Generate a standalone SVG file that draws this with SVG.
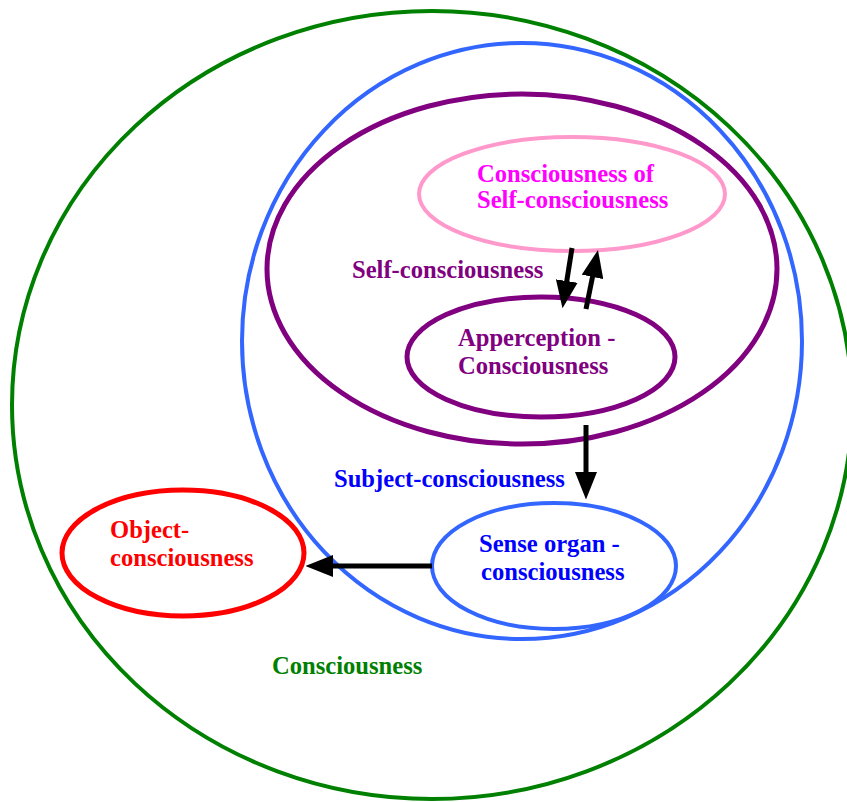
<svg xmlns="http://www.w3.org/2000/svg" width="847" height="802" viewBox="0 0 847 802">
<style>
  .e { fill: none; }
  text { font-family: "Liberation Serif", "Times New Roman", serif; font-weight: bold; font-size: 24.6px; }
  .c { stroke: #000; stroke-width: 5; fill: none; }
</style>
<defs>
  <marker id="ah" markerWidth="5.5" markerHeight="4.4" refX="1" refY="2.2" orient="auto" markerUnits="strokeWidth">
    <path d="M0,0 L5.5,2.2 L0,4.4 z" fill="#000"/>
  </marker>
</defs>
<rect width="847" height="802" fill="#fff"/>
<g id="consciousness">
  <ellipse class="e" cx="432" cy="405" rx="420" ry="394" stroke="#008000" stroke-width="4"/>
  <text x="272" y="674" fill="#008000">Consciousness</text>
</g>
<g id="subject">
  <ellipse class="e" cx="522" cy="341" rx="280" ry="298" stroke="#3366ff" stroke-width="4"/>
  <text x="334" y="487" fill="#0000ff">Subject-consciousness</text>
</g>
<g id="self">
  <ellipse class="e" cx="522" cy="269" rx="255" ry="175" stroke="#800080" stroke-width="5"/>
  <text x="352" y="278" fill="#800080">Self-consciousness</text>
</g>
<g id="consc-of-self">
  <ellipse class="e" cx="572" cy="194" rx="153" ry="57" stroke="#ff99cc" stroke-width="4"/>
  <text x="477" y="182" fill="#ff00ff">Consciousness of</text>
  <text x="477" y="208" fill="#ff00ff">Self-consciousness</text>
</g>
<g id="apperception">
  <ellipse class="e" cx="541" cy="357" rx="134" ry="60" stroke="#800080" stroke-width="5"/>
  <text x="458" y="346" fill="#800080">Apperception -</text>
  <text x="458" y="374" fill="#800080">Consciousness</text>
</g>
<g id="sense-organ">
  <ellipse class="e" cx="554" cy="566" rx="122" ry="63" stroke="#3366ff" stroke-width="4"/>
  <text x="479" y="552" fill="#0000ff">Sense organ -</text>
  <text x="481" y="580" fill="#0000ff">consciousness</text>
</g>
<g id="object">
  <ellipse class="e" cx="183" cy="553" rx="121" ry="63" stroke="#ff0000" stroke-width="5"/>
  <text x="110" y="538" fill="#ff0000">Object-</text>
  <text x="110" y="566" fill="#ff0000">consciousness</text>
</g>
<g id="connectors">
  <line class="c" x1="572" y1="248" x2="566" y2="286" marker-end="url(#ah)"/>
  <line class="c" x1="586" y1="309" x2="593.5" y2="272" marker-end="url(#ah)"/>
  <line class="c" x1="586" y1="425" x2="586" y2="477" marker-end="url(#ah)"/>
  <line class="c" x1="432" y1="566" x2="328" y2="566" marker-end="url(#ah)"/>
</g>
</svg>
